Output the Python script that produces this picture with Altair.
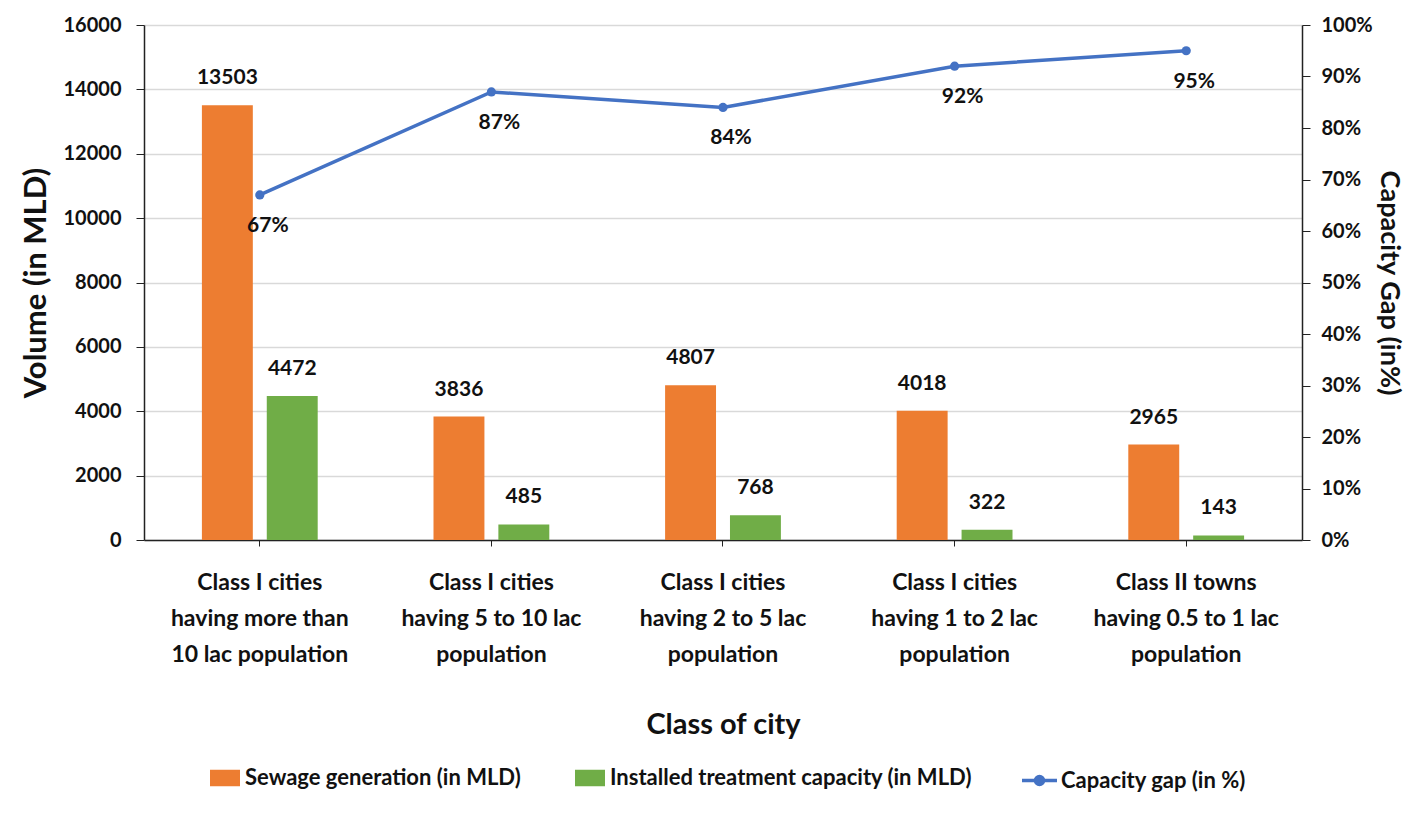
import altair as alt
import pandas as pd

# ---- data ----
categories = [
    "Class I cities\nhaving more than\n10 lac population",
    "Class I cities\nhaving 5 to 10 lac\npopulation",
    "Class I cities\nhaving 2 to 5 lac\npopulation",
    "Class I cities\nhaving 1 to 2 lac\npopulation",
    "Class II towns\nhaving 0.5 to 1 lac\npopulation",
]
series_names = ["Sewage generation (in MLD)", "Installed treatment capacity (in MLD)"]
sewage = [13503, 3836, 4807, 4018, 2965]
installed = [4472, 485, 768, 322, 143]
gap_pct = [67, 87, 84, 92, 95]
line_name = "Capacity gap (in %)"

bar_colors = ["#ED7D31", "#70AD47"]
line_color = "#4472C4"
FONT = "Lato"

bars_df = pd.DataFrame({
    "cat": categories * 2,
    "series": [series_names[0]] * len(categories) + [series_names[1]] * len(categories),
    "value": sewage + installed,
})
line_df = pd.DataFrame({
    "cat": categories,
    "gap": [g / 100 for g in gap_pct],
    "label": [f"{g}%" for g in gap_pct],
    "name": [line_name] * len(categories),
})

x_enc = alt.X(
    "cat:N", sort=categories,
    scale=alt.Scale(paddingInner=0.5, paddingOuter=0.25),
    axis=alt.Axis(
        title="Class of city", labelAngle=0,
        labelExpr="split(datum.label, '\\n')",
        labelLineHeight=36, labelFontSize=23, labelPadding=25, labelLimit=400,
        tickSize=6, titleFontSize=29, titlePadding=44,
        domainColor="#222", tickColor="#222", domainWidth=1.5,
    ),
)
xoff = alt.XOffset("series:N", sort=series_names,
                   scale=alt.Scale(paddingInner=0.215, paddingOuter=0))

y_left = alt.Y(
    "value:Q", scale=alt.Scale(domain=[0, 16000]),
    axis=alt.Axis(
        title="Volume (in MLD)", values=list(range(0, 16001, 2000)), format="d",
        grid=True, gridColor="#D9D9D9", gridWidth=1.5,
        labelFontSize=20, labelPadding=15, tickSize=8,
        titleFontSize=31, titlePadding=11,
        domainColor="#222", tickColor="#222", domainWidth=1.5,
    ),
)

rect_path = "M-1,-0.55H1V0.55H-1Z"
bars = alt.Chart(bars_df).mark_bar().encode(
    x=x_enc, xOffset=xoff, y=y_left,
    fill=alt.Fill(
        "series:N", sort=series_names,
        scale=alt.Scale(domain=series_names, range=bar_colors),
        legend=alt.Legend(
            orient="none", legendX=66, legendY=738, direction="horizontal",
            title=None, symbolType=rect_path, symbolSize=900, symbolStrokeWidth=0,
            labelFontSize=22, labelOffset=5, columnPadding=54, labelLimit=500,
        ),
    ),
)
bar_text = alt.Chart(bars_df).mark_text(
    dy=-27, fontSize=21, fontWeight="bold", color="#111", font=FONT
).encode(x=x_enc, xOffset=xoff, y=y_left, text=alt.Text("value:Q", format="d"))

y_right = alt.Y(
    "gap:Q", scale=alt.Scale(domain=[0, 1]),
    axis=alt.Axis(
        orient="right", title="Capacity Gap (in%)", format=".0%",
        values=[i / 10 for i in range(11)], grid=False,
        labelFontSize=20, labelPadding=11, tickSize=8,
        titleFontSize=27, titlePadding=2,
        domainColor="#222", tickColor="#222", domainWidth=1.5,
    ),
)

line_path = "M-1,0H1M-0.23,0A0.23,0.23,0,1,0,0.23,0A0.23,0.23,0,1,0,-0.23,0Z"
line = alt.Chart(line_df).mark_line(strokeWidth=3.5).encode(
    x=x_enc, y=y_right,
    stroke=alt.Stroke(
        "name:N", scale=alt.Scale(domain=[line_name], range=[line_color]),
        legend=alt.Legend(
            orient="none", legendX=876, legendY=736, title=None,
            symbolType=line_path, symbolSize=1225, symbolStrokeWidth=3.5,
            symbolFillColor=line_color, labelFontSize=22, labelOffset=2, labelLimit=500,
        ),
    ),
)
points = alt.Chart(line_df).mark_circle(size=85, opacity=1, color=line_color).encode(
    x=x_enc, y=y_right
)
line_text = alt.Chart(line_df).mark_text(
    dy=31, dx=8, fontSize=21, fontWeight="bold", color="#111", font=FONT
).encode(x=x_enc, y=y_right, text="label:N")

left = alt.layer(bars, bar_text)
right = alt.layer(line, points, line_text)

chart = alt.layer(left, right).resolve_scale(y="independent").properties(
    width=1158, height=515,
    padding={"left": 136, "top": 17, "right": 108, "bottom": 265},
    autosize=alt.AutoSizeParams(type="none"),
    background="white",
).configure(font=FONT).configure_axis(
    labelFont=FONT, titleFont=FONT, labelFontWeight="bold", titleFontWeight="bold",
    labelColor="#111", titleColor="#111",
).configure_legend(
    labelFont=FONT, labelFontWeight="bold", labelColor="#111",
).configure_view(stroke=None)

chart.save("out.html", embed_options={"renderer": "svg", "actions": False})
